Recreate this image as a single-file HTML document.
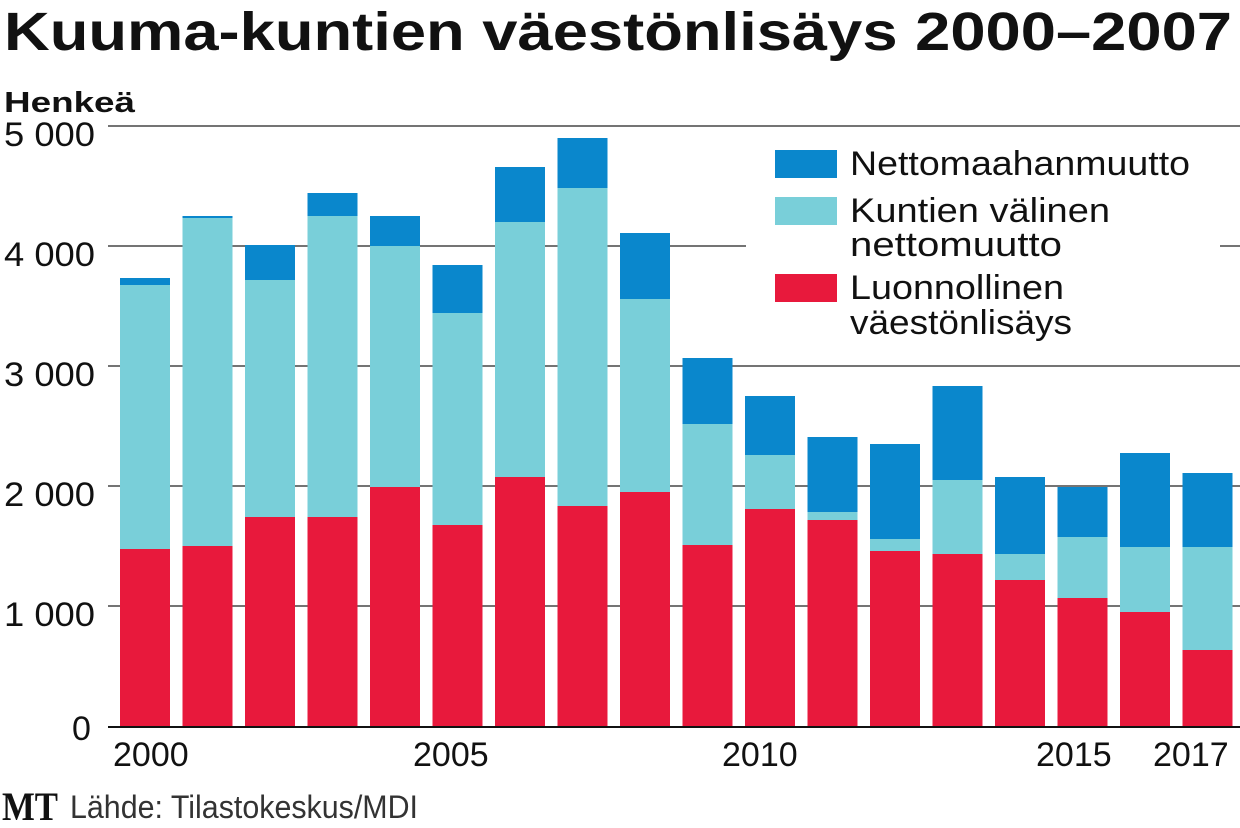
<!DOCTYPE html>
<html><head><meta charset="utf-8"><style>
body{margin:0;background:#fff;}
svg{display:block;font-family:"Liberation Sans",sans-serif;}
</style></head><body>
<svg width="1240" height="828" viewBox="0 0 1240 828">
<text x="4" y="50" font-size="54" font-weight="bold" fill="#111" textLength="1228" lengthAdjust="spacingAndGlyphs">Kuuma-kuntien väestönlisäys 2000–2007</text>
<text x="4" y="112" font-size="29" font-weight="bold" fill="#111" textLength="131" lengthAdjust="spacingAndGlyphs">Henkeä</text>
<g stroke="#222" stroke-width="1.2">
<line x1="108" y1="126" x2="1240" y2="126"/>
<line x1="108" y1="246" x2="1240" y2="246"/>
<line x1="108" y1="366" x2="1240" y2="366"/>
<line x1="108" y1="486" x2="1240" y2="486"/>
<line x1="108" y1="606" x2="1240" y2="606"/>
</g>
<g font-size="34" fill="#111">
<text x="4" y="146" textLength="91" lengthAdjust="spacingAndGlyphs">5 000</text>
<text x="4" y="266" textLength="91" lengthAdjust="spacingAndGlyphs">4 000</text>
<text x="4" y="386" textLength="91" lengthAdjust="spacingAndGlyphs">3 000</text>
<text x="4" y="506" textLength="91" lengthAdjust="spacingAndGlyphs">2 000</text>
<text x="4" y="626" textLength="91" lengthAdjust="spacingAndGlyphs">1 000</text>
<text x="72" y="740">0</text>
</g>
<g>
<rect x="120" y="549" width="50" height="178" fill="#e8193c"/><rect x="120" y="285" width="50" height="264" fill="#79cfd9"/><rect x="120" y="278" width="50" height="7" fill="#0a87cc"/>
<rect x="182.5" y="546" width="50" height="181" fill="#e8193c"/><rect x="182.5" y="218" width="50" height="328" fill="#79cfd9"/><rect x="182.5" y="216" width="50" height="2" fill="#0a87cc"/>
<rect x="245" y="517" width="50" height="210" fill="#e8193c"/><rect x="245" y="280" width="50" height="237" fill="#79cfd9"/><rect x="245" y="245" width="50" height="35" fill="#0a87cc"/>
<rect x="307.5" y="517" width="50" height="210" fill="#e8193c"/><rect x="307.5" y="216" width="50" height="301" fill="#79cfd9"/><rect x="307.5" y="193" width="50" height="23" fill="#0a87cc"/>
<rect x="370" y="487" width="50" height="240" fill="#e8193c"/><rect x="370" y="246" width="50" height="241" fill="#79cfd9"/><rect x="370" y="216" width="50" height="30" fill="#0a87cc"/>
<rect x="432.5" y="525" width="50" height="202" fill="#e8193c"/><rect x="432.5" y="313" width="50" height="212" fill="#79cfd9"/><rect x="432.5" y="265" width="50" height="48" fill="#0a87cc"/>
<rect x="495" y="477" width="50" height="250" fill="#e8193c"/><rect x="495" y="222" width="50" height="255" fill="#79cfd9"/><rect x="495" y="167" width="50" height="55" fill="#0a87cc"/>
<rect x="557.5" y="506" width="50" height="221" fill="#e8193c"/><rect x="557.5" y="188" width="50" height="318" fill="#79cfd9"/><rect x="557.5" y="138" width="50" height="50" fill="#0a87cc"/>
<rect x="620" y="492" width="50" height="235" fill="#e8193c"/><rect x="620" y="299" width="50" height="193" fill="#79cfd9"/><rect x="620" y="233" width="50" height="66" fill="#0a87cc"/>
<rect x="682.5" y="545" width="50" height="182" fill="#e8193c"/><rect x="682.5" y="424" width="50" height="121" fill="#79cfd9"/><rect x="682.5" y="358" width="50" height="66" fill="#0a87cc"/>
<rect x="745" y="509" width="50" height="218" fill="#e8193c"/><rect x="745" y="455" width="50" height="54" fill="#79cfd9"/><rect x="745" y="396" width="50" height="59" fill="#0a87cc"/>
<rect x="807.5" y="520" width="50" height="207" fill="#e8193c"/><rect x="807.5" y="512" width="50" height="8" fill="#79cfd9"/><rect x="807.5" y="437" width="50" height="75" fill="#0a87cc"/>
<rect x="870" y="551" width="50" height="176" fill="#e8193c"/><rect x="870" y="539" width="50" height="12" fill="#79cfd9"/><rect x="870" y="444" width="50" height="95" fill="#0a87cc"/>
<rect x="932.5" y="554" width="50" height="173" fill="#e8193c"/><rect x="932.5" y="480" width="50" height="74" fill="#79cfd9"/><rect x="932.5" y="386" width="50" height="94" fill="#0a87cc"/>
<rect x="995" y="580" width="50" height="147" fill="#e8193c"/><rect x="995" y="554" width="50" height="26" fill="#79cfd9"/><rect x="995" y="477" width="50" height="77" fill="#0a87cc"/>
<rect x="1057.5" y="598" width="50" height="129" fill="#e8193c"/><rect x="1057.5" y="537" width="50" height="61" fill="#79cfd9"/><rect x="1057.5" y="487" width="50" height="50" fill="#0a87cc"/>
<rect x="1120" y="612" width="50" height="115" fill="#e8193c"/><rect x="1120" y="547" width="50" height="65" fill="#79cfd9"/><rect x="1120" y="453" width="50" height="94" fill="#0a87cc"/>
<rect x="1182.5" y="650" width="50" height="77" fill="#e8193c"/><rect x="1182.5" y="547" width="50" height="103" fill="#79cfd9"/><rect x="1182.5" y="473" width="50" height="74" fill="#0a87cc"/>
</g>
<rect x="746" y="140" width="474" height="205" fill="#fff"/>
<rect x="775" y="150" width="62" height="28" fill="#0a87cc"/>
<rect x="775" y="197" width="62" height="28" fill="#79cfd9"/>
<rect x="775" y="274" width="62" height="28" fill="#e8193c"/>
<g font-size="34" fill="#111">
<text x="850" y="175" textLength="340" lengthAdjust="spacingAndGlyphs">Nettomaahanmuutto</text>
<text x="850" y="222" textLength="260" lengthAdjust="spacingAndGlyphs">Kuntien välinen</text>
<text x="850" y="256" textLength="212" lengthAdjust="spacingAndGlyphs">nettomuutto</text>
<text x="850" y="299" textLength="214" lengthAdjust="spacingAndGlyphs">Luonnollinen</text>
<text x="850" y="334" textLength="222" lengthAdjust="spacingAndGlyphs">väestönlisäys</text>
</g>
<line x1="108" y1="727" x2="1240" y2="727" stroke="#111" stroke-width="2"/>
<g font-size="34" fill="#111">
<text x="113" y="766">2000</text>
<text x="413" y="766">2005</text>
<text x="722" y="766">2010</text>
<text x="1036" y="766">2015</text>
<text x="1153" y="766">2017</text>
</g>
<text x="2" y="820" font-family="Liberation Serif,serif" font-weight="bold" font-size="40" fill="#111" textLength="56" lengthAdjust="spacingAndGlyphs">MT</text>
<text x="70" y="818" font-size="32" fill="#333" textLength="348" lengthAdjust="spacingAndGlyphs">Lähde: Tilastokeskus/MDI</text>
</svg>
</body></html>
